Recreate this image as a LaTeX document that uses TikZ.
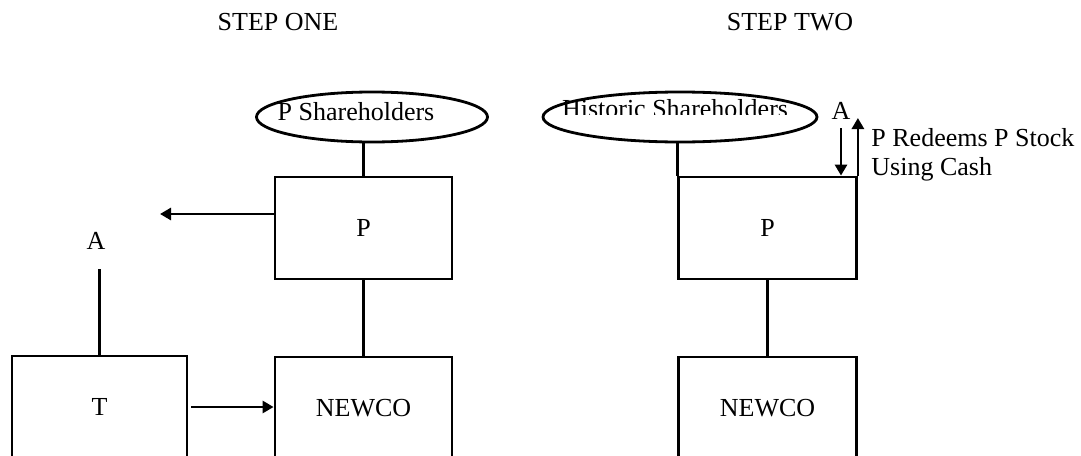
\documentclass[tikz,border=0pt]{standalone}
\usepackage{fontspec}
\setmainfont{Liberation Serif}
\usetikzlibrary{arrows.meta, positioning, shapes.geometric}

\begin{document}
\begin{tikzpicture} [%
    x = 1pt, y = -1pt,
    >= { Triangle[length=11pt, width=12pt] },
    line width = 2.8pt,
    node distance = 180pt,
    on grid,
    font = \fontsize{26}{30}\selectfont,
    company/.style = {%
      draw, rectangle, inner sep = 0pt,
      minimum width = 177pt, minimum height = 102pt },
    holders/.style = {%
      draw, ellipse, inner sep = 0pt, minimum height = 50pt },
    plain/.style = { inner sep = 0pt }
  ]

  \useasboundingbox (0,0) rectangle (1081,455);
  \clip (0,0) rectangle (1081,455);

  % step one
  \node[plain] (titleone) at (278,22) {STEP ONE};
  \node[holders, minimum width=231pt] (pshone) at (372,117) {};
  \node[plain] (pshtext) at (356,112) {P Shareholders};
  \node[company] (pone) at (363.5,228) {P};
  \node[company] (newone) [below=of pone] {NEWCO};
  \node[company, minimum width=175pt] (tone) at (99.5,407) {T};
  \node[plain] (aone) at (96,241) {A};
  \coordinate (cashout) at (160,214);

  \draw (pone.north) -- (pone.north |- pshone.south);
  \draw (pone.south) -- (newone.north);
  \draw[->] (pone.west |- cashout) -- (cashout);
  \draw[shorten >= 18pt] (tone.north) -- (tone.north |- aone.south);
  \draw[->, shorten <= 3pt] (tone.east) -- (tone.east -| newone.west);

  % step two
  \node[plain] (titletwo) at (790,22) {STEP TWO};
  \node[holders, minimum width=274pt] (hshtwo) at (680,117) {};
  \begin{scope}
    \clip (540,95) rectangle (820,114);
    \node[plain] (hshtext) at (675,108.5) {Historic Shareholders};
  \end{scope}
  \node[company, minimum width=178pt] (ptwo) [right=404pt of pone] {P};
  \node[company, minimum width=178pt] (newtwo) [below=of ptwo] {NEWCO};
  \node[plain] (atwo) at (841,111) {A};
  \node[plain, anchor=base west] (redeem) at (870,146) {P Redeems P Stock};
  \node[plain, anchor=base west] (cash) at (870,175) {Using Cash};
  \coordinate (redeemtop) at (856,118);
  \coordinate (redeemin) at (841,128);

  \draw (ptwo.north west |- hshtwo.south) -- (ptwo.north west);
  \draw (ptwo.south) -- (newtwo.north);
  \draw[->] (ptwo.north east) -- (ptwo.north east |- redeemtop);
  \draw[->] (redeemin) -- (redeemin |- ptwo.north);

\end{tikzpicture}
\end{document}
